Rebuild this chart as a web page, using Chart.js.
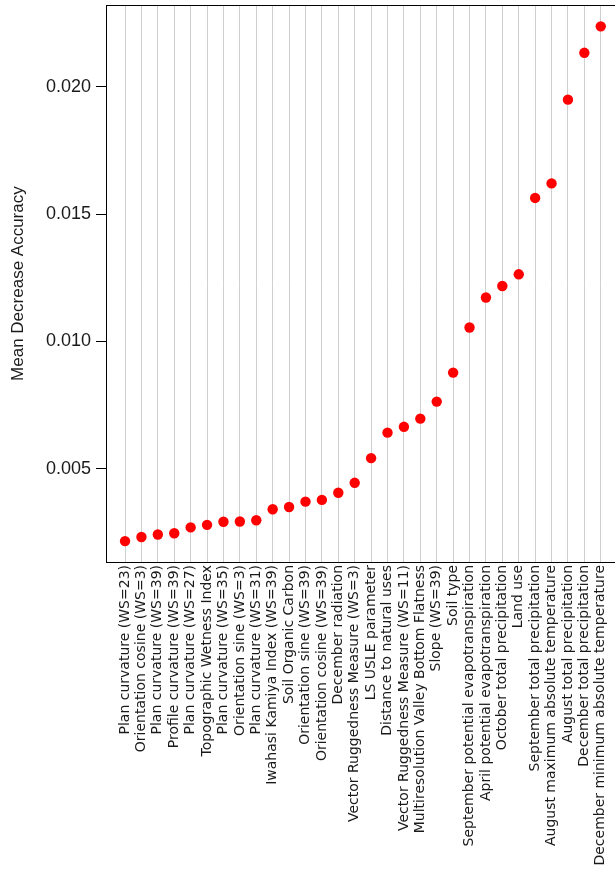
<!DOCTYPE html>
<html>
<head>
<meta charset="utf-8">
<script src="https://cdn.jsdelivr.net/npm/chart.js@4.4.1/dist/chart.umd.min.js"></script>
<style>
  html, body { margin: 0; padding: 0; background: #fff; overflow: hidden; }
  #wrap { position: absolute; left: 0; top: 0; width: 625px; height: 875px; }
</style>
</head>
<body>
<div id="wrap"><canvas id="c" width="625" height="875"></canvas></div>
<script>
const categories = [
  "Plan curvature (WS=23)",
  "Orientation cosine (WS=3)",
  "Plan curvature (WS=39)",
  "Profile curvature (WS=39)",
  "Plan curvature (WS=27)",
  "Topographic Wetness Index",
  "Plan curvature (WS=35)",
  "Orientation sine (WS=3)",
  "Plan curvature (WS=31)",
  "Iwahasi Kamiya Index (WS=39)",
  "Soil Organic Carbon",
  "Orientation sine (WS=39)",
  "Orientation cosine (WS=39)",
  "December radiation",
  "Vector Ruggedness Measure (WS=3)",
  "LS USLE parameter",
  "Distance to natural uses",
  "Vector Ruggedness Measure (WS=11)",
  "Multiresolution Valley Bottom Flatness",
  "Slope (WS=39)",
  "Soil type",
  "September potential evapotranspiration",
  "April potential evapotranspiration",
  "October total precipitation",
  "Land use",
  "September total precipitation",
  "August maximum absolute temperature",
  "August total precipitation",
  "December total precipitation",
  "December minimum absolute temperature"
];

const meanDecreaseAccuracy = [
  0.00216, 0.00232, 0.00242, 0.00247, 0.00270, 0.00280, 0.00292, 0.00293, 0.00298, 0.00341,
  0.00350, 0.00371, 0.00378, 0.00406, 0.00445, 0.00542, 0.00642, 0.00665, 0.00697, 0.00764,
  0.00878, 0.01055, 0.01173, 0.01218, 0.01264, 0.01564, 0.01621, 0.01950, 0.02134, 0.02238
];

const yTicks = [0.005, 0.010, 0.015, 0.020];

const points = meanDecreaseAccuracy.map((v, i) => ({ x: i, y: v }));

const xMin = -1.16, xMax = categories.length - 1 + 1.16;
const yMin = 0.00134, yMax = 0.02321;

new Chart(document.getElementById('c'), {
  type: 'scatter',
  data: {
    datasets: [{
      data: points,
      backgroundColor: '#ff0000',
      borderWidth: 0,
      pointRadius: 5.2,
      pointHoverRadius: 5.2
    }]
  },
  options: {
    responsive: false,
    animation: false,
    devicePixelRatio: 1,
    layout: { padding: { top: 1, right: 2, left: 0, bottom: 0 } },
    plugins: { legend: { display: false }, tooltip: { enabled: false } },
    scales: {
      x: {
        type: 'linear',
        position: 'bottom',
        min: xMin,
        max: xMax,
        afterBuildTicks: s => { s.ticks = categories.map((_, i) => ({ value: i })); },
        afterFit: s => { s.height = 313; s.paddingLeft = 0; s.paddingRight = 0; },
        ticks: {
          autoSkip: false,
          minRotation: 90,
          maxRotation: 90,
          padding: 3,
          color: '#1a1a1a',
          font: { family: 'DejaVu Sans', size: 14 },
          callback: v => categories[v]
        },
        grid: { color: '#cfcfcf', lineWidth: 1, drawTicks: false },
        border: { display: true, color: '#000', width: 1 }
      },
      x2: {
        type: 'linear',
        position: 'top',
        min: xMin,
        max: xMax,
        afterFit: s => { s.height = 0; s.paddingLeft = 0; s.paddingRight = 0; },
        ticks: { display: false },
        grid: { display: false },
        border: { display: true, color: '#000', width: 1 }
      },
      y: {
        type: 'linear',
        min: yMin,
        max: yMax,
        afterBuildTicks: s => { s.ticks = yTicks.map(v => ({ value: v })); },
        afterFit: s => { s.width = 106; s.paddingTop = 0; s.paddingBottom = 0; },
        ticks: {
          padding: 5,
          color: '#1a1a1a',
          font: { family: 'Liberation Sans', size: 18 },
          callback: v => v.toFixed(3)
        },
        grid: { drawOnChartArea: false, drawTicks: true, tickLength: 10, tickColor: '#000', tickWidth: 1 },
        border: { display: true, color: '#000', width: 1 },
        title: {
          display: true,
          text: 'Mean Decrease Accuracy',
          color: '#1a1a1a',
          font: { family: 'Liberation Sans', size: 17 },
          padding: { top: 8, bottom: 0 }
        }
      }
    }
  }
});
</script>
</body>
</html>
